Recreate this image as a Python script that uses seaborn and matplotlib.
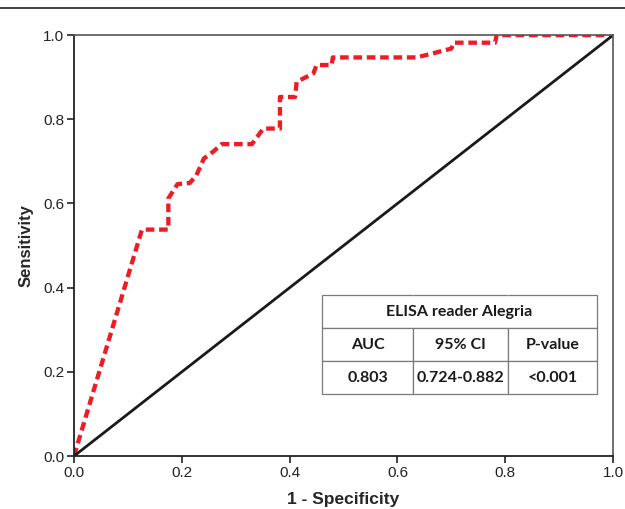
import numpy as np
import pandas as pd
import matplotlib
matplotlib.use("Agg")
import matplotlib.pyplot as plt
import seaborn as sns
from matplotlib.lines import Line2D

# ROC curve points (1 - specificity, sensitivity)
fpr = [0.0, 0.126, 0.175, 0.175, 0.192, 0.215, 0.227, 0.241, 0.258, 0.274,
       0.330, 0.351, 0.382, 0.382, 0.410, 0.413, 0.444, 0.450, 0.478, 0.480,
       0.636, 0.700, 0.704, 0.781, 0.784, 1.0]
tpr = [0.0, 0.538, 0.538, 0.612, 0.646, 0.649, 0.667, 0.707, 0.723, 0.741,
       0.741, 0.778, 0.778, 0.853, 0.853, 0.889, 0.909, 0.929, 0.929, 0.947,
       0.947, 0.968, 0.982, 0.982, 1.0, 1.0]
ref_line = [0.0, 1.0]

table_title = "ELISA reader Alegria"
table_header = ["AUC", "95% CI", "P-value"]
table_values = ["0.803", "0.724-0.882", "<0.001"]

sns.set_style("ticks")
plt.rcParams['font.family'] = ['Liberation Sans', 'DejaVu Sans']

fig = plt.figure(figsize=(6.25, 5.09), dpi=100)
ax = fig.add_axes([0.1184, 0.104, 0.8626, 0.827])

roc = pd.DataFrame({"fpr": fpr, "tpr": tpr})
sns.lineplot(data=roc, x="fpr", y="tpr", sort=False, estimator=None, ax=ax,
             color="#ee1c25", linewidth=3.1, linestyle=(0, (2.0, 1.1)))
ax.lines[-1].set_dash_capstyle("butt")
sns.lineplot(x=ref_line, y=ref_line, ax=ax, color="#1a1a1a", linewidth=2.0)

ax.set_xlim(0, 1)
ax.set_ylim(0, 1)
ticks = np.arange(0, 1.01, 0.2)
ax.set_xticks(ticks)
ax.set_yticks(ticks)
ax.set_xticklabels([f"{v:.1f}" for v in ticks])
ax.set_yticklabels([f"{v:.1f}" for v in ticks])
ax.tick_params(axis="both", direction="out", length=5, width=1.2,
               labelsize=11, colors="#222222", pad=2)
for side in ["left", "bottom"]:
    ax.spines[side].set_color("#222222")
    ax.spines[side].set_linewidth(1.3)
for side in ["top", "right"]:
    ax.spines[side].set_visible(True)
    ax.spines[side].set_color("#555555")
    ax.spines[side].set_linewidth(1.2)

ax.set_xlabel("1 - Specificity", fontsize=12.5, fontweight="bold", labelpad=9)
ax.set_ylabel("Sensitivity", fontsize=12, fontweight="bold", labelpad=7)

# summary table
cells = [["", "", ""], table_header, table_values]
tb = ax.table(cellText=cells, cellLoc="center",
              bbox=[0.460, 0.147, 0.510, 0.235])
tb.auto_set_font_size(False)
widths = [0.331, 0.345, 0.324]
for (r, c), cell in tb.get_celld().items():
    cell.set_edgecolor("#7a7a7a")
    cell.set_linewidth(0.9)
    cell.set_width(widths[c] * 0.510)
    cell.get_text().set_fontsize(11.5)
    cell.get_text().set_family(["Lato", "DejaVu Sans"])
    cell.get_text().set_fontweight("bold")
    cell.get_text().set_color("#1a1a1a")
    if r == 0:
        cell.visible_edges = {0: "BTL", 1: "BT", 2: "BTR"}[c]
ax.text(0.460 + 0.510 / 2, 0.147 + 0.235 * 5 / 6, table_title,
        transform=ax.transAxes, ha="center", va="center", fontsize=11.5,
        family=["Lato", "DejaVu Sans"], fontweight="bold", color="#1a1a1a")

# page rule at the top
fig.add_artist(Line2D([0, 1], [0.984, 0.984], transform=fig.transFigure,
                      color="#222222", linewidth=1.2))

fig.savefig("out.png", dpi=100)
